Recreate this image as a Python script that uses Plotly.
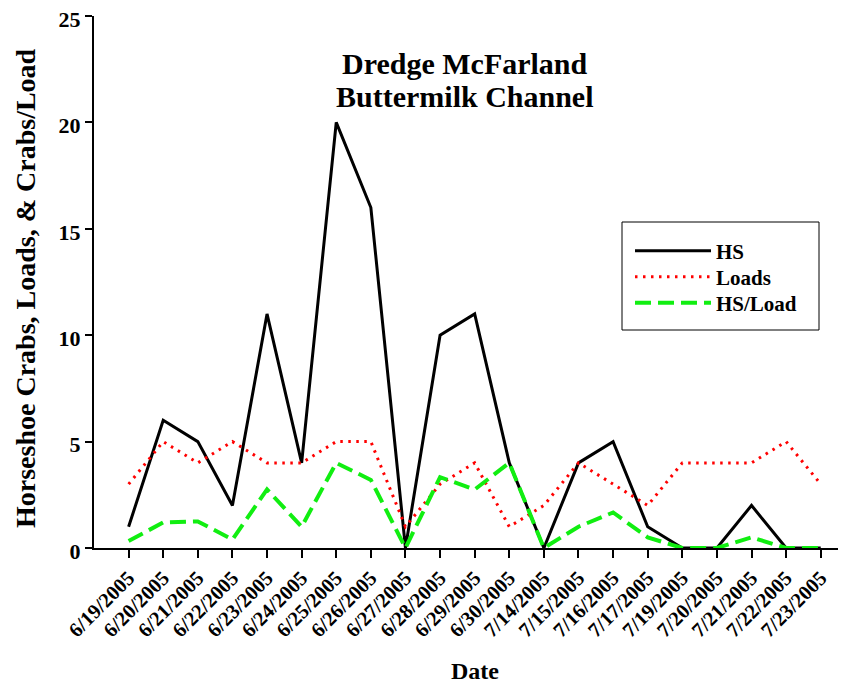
import plotly.graph_objects as go

dates = ["6/19/2005", "6/20/2005", "6/21/2005", "6/22/2005", "6/23/2005", "6/24/2005",
         "6/25/2005", "6/26/2005", "6/27/2005", "6/28/2005", "6/29/2005", "6/30/2005",
         "7/14/2005", "7/15/2005", "7/16/2005", "7/17/2005", "7/19/2005", "7/20/2005",
         "7/21/2005", "7/22/2005", "7/23/2005"]
hs = [1, 6, 5, 2, 11, 4, 20, 16, 0, 10, 11, 4, 0, 4, 5, 1, 0, 0, 2, 0, 0]
loads = [3, 5, 4, 5, 4, 4, 5, 5, 1, 3, 4, 1, 2, 4, 3, 2, 4, 4, 4, 5, 3]
hs_per_load = [0.33, 1.2, 1.25, 0.4, 2.75, 1.0, 4.0, 3.2, 0.0, 3.33, 2.75, 4.0,
               0.0, 1.0, 1.67, 0.5, 0.0, 0.0, 0.5, 0.0, 0.0]
y_ticks = [0, 5, 10, 15, 20, 25]

FONT = "Liberation Serif, Times New Roman, serif"

# page body has an 8px margin; figure coordinates = screen - 8
W, H = 838, 677
L, R, T, B = 86, 0, 8, 137
PW, PH = W - L - R, H - T - B


def px_x(x):
    return (x - L) / PW


def px_y(y):
    return (H - B - y) / PH


fig = go.Figure()
fig.add_trace(go.Scatter(x=dates, y=hs, mode="lines", name="HS", legend="legend",
                         line=dict(color="black", width=3), cliponaxis=False))
fig.add_trace(go.Scatter(x=dates, y=loads, mode="lines", name="Loads", legend="legend2",
                         line=dict(color="#ff0000", width=3, dash="2.5px,5.5px"), cliponaxis=False))
fig.add_trace(go.Scatter(x=dates, y=hs_per_load, mode="lines", name="HS/Load", legend="legend3",
                         line=dict(color="#11ee11", width=4, dash="16px,7px"), cliponaxis=False))


def leg(yc):
    return dict(x=px_x(622), y=px_y(yc), xanchor="left", yanchor="middle",
                borderwidth=0, bgcolor="rgba(0,0,0,0)",
                font=dict(family=FONT, size=21, weight="bold"), itemwidth=76)


fig.update_layout(
    width=W, height=H,
    margin=dict(l=L, r=R, t=T, b=B),
    paper_bgcolor="white", plot_bgcolor="white",
    font=dict(family=FONT, color="black", size=20, weight="bold"),
    showlegend=True,
    legend=leg(243), legend2=leg(269), legend3=leg(295),
    shapes=[dict(type="rect", xref="paper", yref="paper",
                 x0=px_x(614), x1=px_x(811), y0=px_y(214), y1=px_y(322),
                 line=dict(color="black", width=1), fillcolor="white", layer="above")],
    annotations=[
        dict(text="Dredge McFarland", xref="paper", yref="paper",
             x=px_x(457), y=px_y(55), xanchor="center", yanchor="middle", showarrow=False,
             font=dict(family=FONT, size=30, weight="bold")),
        dict(text="Buttermilk Channel", xref="paper", yref="paper",
             x=px_x(457), y=px_y(88), xanchor="center", yanchor="middle", showarrow=False,
             font=dict(family=FONT, size=30, weight="bold")),
        dict(text="Date", xref="paper", yref="paper",
             x=px_x(467), y=px_y(663), xanchor="center", yanchor="middle", showarrow=False,
             font=dict(family=FONT, size=24, weight="bold")),
        dict(text="Horseshoe Crabs, Loads, & Crabs/Load", xref="paper", yref="paper",
             x=px_x(17), y=px_y(280), xanchor="center", yanchor="middle", showarrow=False,
             textangle=-90, font=dict(family=FONT, size=28, weight="bold")),
    ],
)
fig.update_xaxes(
    type="category", range=[-1, 20.73], showline=True, linecolor="black", linewidth=2,
    ticks="outside", ticklen=8, tickwidth=2, tickcolor="black", tickangle=-45,
    showgrid=False, zeroline=False, automargin=False, ticklabeloverflow="allow",
    tickfont=dict(family=FONT, size=20.5, weight="bold"),
)
fig.update_yaxes(
    range=[0, 25], tickvals=y_ticks, showline=True, linecolor="black", linewidth=2,
    ticks="outside", ticklen=7, tickwidth=2, tickcolor="black",
    showgrid=False, zeroline=False, automargin=False, ticklabeloverflow="allow",
    ticklabelshift=3,
    tickfont=dict(family=FONT, size=22, weight="bold"),
)

fig.write_html("out.html")
